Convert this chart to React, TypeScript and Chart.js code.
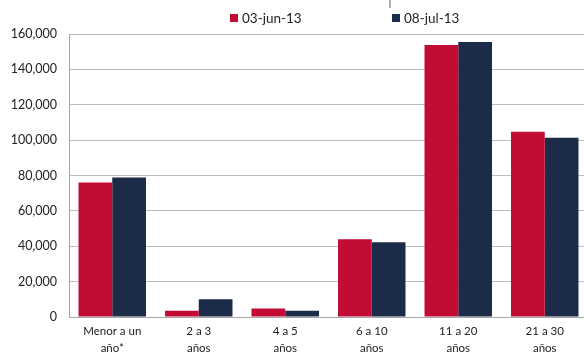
import React, { useEffect, useRef } from "react";
import { Chart, registerables } from "chart.js";

Chart.register(...registerables);

const categories: string[][] = [
  ["Menor a un", "año*"],
  ["2 a 3", "años"],
  ["4 a 5", "años"],
  ["6 a 10", "años"],
  ["11 a 20", "años"],
  ["21 a 30", "años"],
];
const seriesNames = ["03-jun-13", "08-jul-13"];
const jun13 = [76000, 3500, 4800, 43900, 153800, 104800];
const jul13 = [78800, 10000, 3500, 42300, 155500, 101400];
const colors = ["#C20C36", "#1B2B48"];
const FONT = "Lato, 'Open Sans', sans-serif";

export default function App() {
  const ref = useRef<HTMLCanvasElement | null>(null);
  useEffect(() => {
    if (!ref.current) return;
    const chart = new Chart(ref.current, {
      type: "bar",
      data: {
        labels: categories,
        datasets: [
          { label: seriesNames[0], data: jun13, backgroundColor: colors[0] },
          { label: seriesNames[1], data: jul13, backgroundColor: colors[1] },
        ],
      },
      options: {
        animation: false,
        responsive: false,
        maintainAspectRatio: false,
        layout: { padding: { top: 34, right: 0, left: 0, bottom: 0 } },
        datasets: { bar: { categoryPercentage: 0.78, barPercentage: 1 } },
        plugins: { legend: { display: false }, tooltip: { enabled: false } },
        scales: {
          x: {
            grid: { display: false, drawTicks: false },
            border: { color: "#a6a6a6" },
            ticks: {
              color: "#222",
              font: { family: FONT, size: 11.5, lineHeight: 1.45 },
              padding: 6,
              maxRotation: 0,
              autoSkip: false,
            },
            afterFit: (s: any) => {
              s.height = 37;
            },
          },
          y: {
            min: 0,
            max: 160000,
            ticks: {
              stepSize: 20000,
              color: "#222",
              font: { family: FONT, size: 12.5 },
              padding: 12,
              callback: (v: any) => Number(v).toLocaleString("en-US"),
            },
            grid: { color: "#bdbdbd", drawTicks: false },
            border: { color: "#a6a6a6" },
            afterFit: (s: any) => {
              s.width = 69;
            },
          },
        },
      },
    });
    return () => chart.destroy();
  }, []);

  return (
    <div
      style={{
        position: "fixed",
        left: 0,
        top: 0,
        width: 584,
        height: 354,
        overflow: "hidden",
        background: "#fff",
      }}
    >
      <canvas ref={ref} width={588} height={354} style={{ display: "block" }} />
      <div style={{ position: "absolute", left: 389, top: 0, width: 2, height: 8, background: "#b0b0b0" }} />
      {seriesNames.map((n, i) => (
        <div
          key={n}
          style={{
            position: "absolute",
            left: i === 0 ? 230 : 392,
            top: 10,
            display: "flex",
            alignItems: "center",
            fontFamily: FONT,
            fontSize: 13.5,
            color: "#222",
            whiteSpace: "nowrap",
          }}
        >
          <span style={{ display: "inline-block", width: 8, height: 8, background: colors[i], marginRight: 4 }} />
          {n}
        </div>
      ))}
    </div>
  );
}
